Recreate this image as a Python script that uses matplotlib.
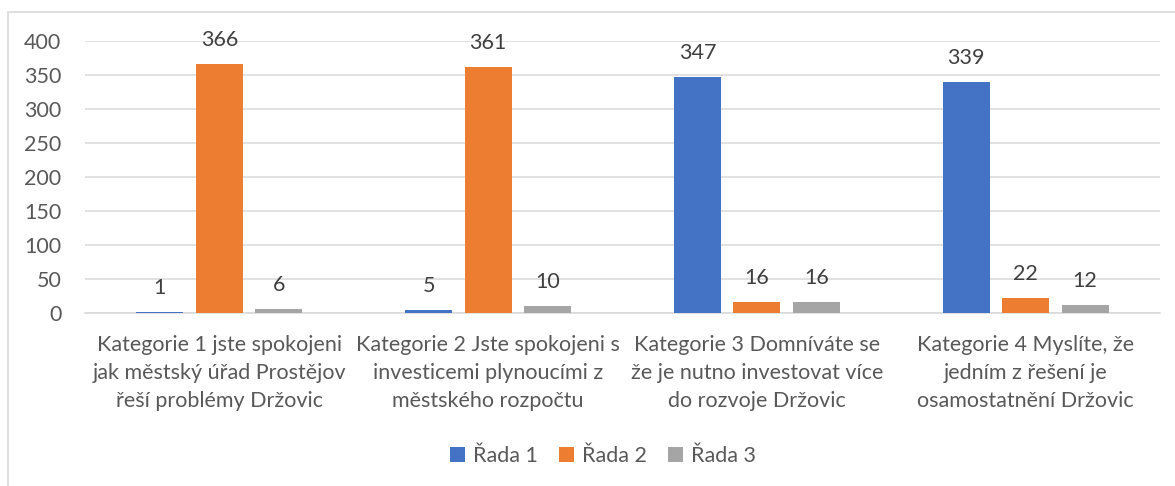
import matplotlib.pyplot as plt
import numpy as np
from matplotlib.patches import Rectangle

kategorie = [
    "Kategorie 1 jste spokojeni\njak městský úřad Prostějov\nřeší problémy Držovic",
    "Kategorie 2 Jste spokojeni s\ninvesticemi plynoucími z\nměstského rozpočtu",
    "Kategorie 3 Domníváte se\nže je nutno investovat více\ndo rozvoje Držovic",
    "Kategorie 4 Myslíte, že\njedním z řešení je\nosamostatnění Držovic",
]
rada_1 = [1, 5, 347, 339]
rada_2 = [366, 361, 16, 22]
rada_3 = [6, 10, 16, 12]
nazvy = ["Řada 1", "Řada 2", "Řada 3"]
barvy = ["#4472C4", "#ED7D31", "#A5A5A5"]

plt.rcParams["font.family"] = ["Lato", "DejaVu Sans"]
text_col = "#595959"

fig = plt.figure(figsize=(11.75, 4.86), dpi=100)
ax = fig.add_axes([0.0723, 0.356, 0.915, 0.56])

# ramecek grafu (v originalu je videt jen vlevo a nahore)
fig.patches.append(Rectangle((8 / 1175, -0.1), 1.2, 1 - 12 / 486 + 0.1,
                             transform=fig.transFigure, fill=False,
                             edgecolor="#D9D9D9", linewidth=1.2))

x = np.arange(len(kategorie))
sirka = 0.175
krok = 0.221
for i, (vals, nazev, barva) in enumerate(zip([rada_1, rada_2, rada_3], nazvy, barvy)):
    pos = x + (i - 1) * krok
    ax.bar(pos, vals, width=sirka, color=barva, label=nazev, zorder=3)
    for p, v in zip(pos, vals):
        ax.annotate(str(v), (p, v), xytext=(0, 10), textcoords="offset points",
                    ha="center", va="bottom", fontsize=15.5, color="#404040")

ax.set_xlim(-0.5, 3.5)
ax.set_ylim(0, 400)
ax.set_yticks(range(0, 401, 50))
ax.yaxis.grid(True, color="#D9D9D9", linewidth=1.1, zorder=0)
ax.set_axisbelow(True)
for s in ["top", "right", "left"]:
    ax.spines[s].set_visible(False)
ax.spines["bottom"].set_color("#D9D9D9")
ax.spines["bottom"].set_linewidth(1.1)
ax.tick_params(axis="both", length=0, labelsize=15.5, colors=text_col)
ax.tick_params(axis="y", pad=17)
ax.set_xticks(x)
ax.set_xticklabels(kategorie, linespacing=1.48)
ax.tick_params(axis="x", pad=16)

fig.legend(loc="center", bbox_to_anchor=(0.513, 0.062), ncol=3, frameon=False,
           fontsize=15.5, labelcolor=text_col, handlelength=0.7, handleheight=0.7,
           handletextpad=0.35, columnspacing=1.0)

fig.savefig("out.png", dpi=100)
